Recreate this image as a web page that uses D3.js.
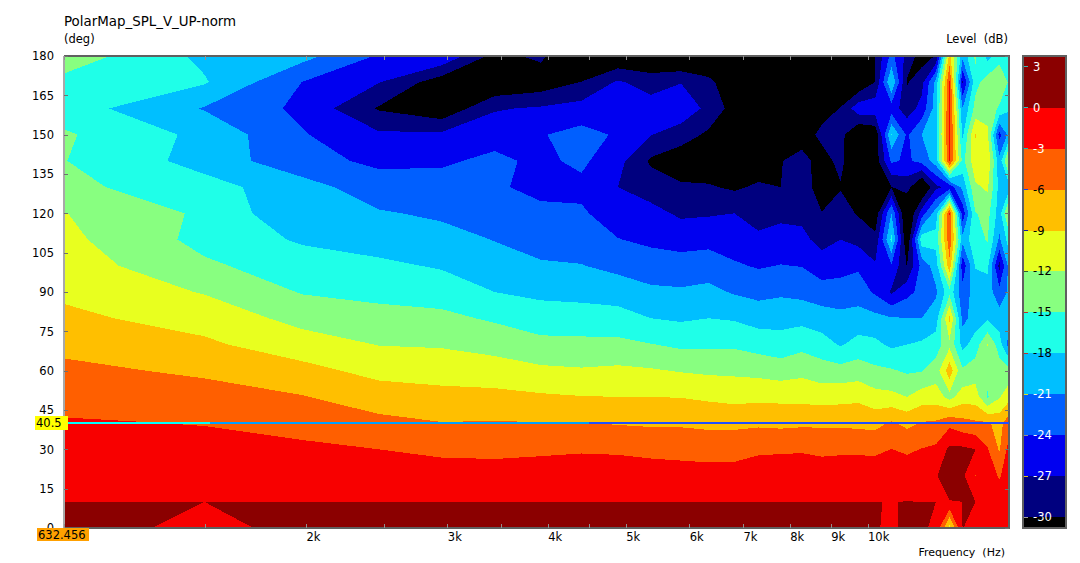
<!DOCTYPE html>
<html><head><meta charset="utf-8">
<script src="https://cdnjs.cloudflare.com/ajax/libs/d3/7.8.5/d3.min.js"></script>
<style>
html,body{margin:0;padding:0;background:#fff}
svg{display:block}
text{font-family:"DejaVu Sans",sans-serif;font-size:11.5px;fill:#000}
text.title{font-size:13.4px}
text.xname{font-size:11px}
</style></head><body>
<svg id="c" width="1080" height="563"></svg>
<script>
const title = "PolarMap_SPL_V_UP-norm";
const freqs = [1000,1495,1980,2465,2950,3435,3920,4405,4890,5375,5860,6345,6830,7315,7800,8285,8770,9255,9740,10225,10710,11195,11680,12165,12650,13135,13620,14105,14590,15000];
const angles = [0,10,20,30,40,50,60,70,80,90,100,110,120,130,140,150,160,170,180];
const row180 = [-13.2,-18.7,-20,-24.3,-24.4,-31,-29.33,-33.9,-33,-33,-34,-34,-34,-34,-34,-34,-34,-33,-33,-29.9,-23,-28,-31.5,-29.8,-8,-20,-14.5,-19,-16.5,-15.5];
const row170 = [-15.9,-17.7,-24.05,-26.9,-31.7,-33,-32,-29.9,-26.6,-28.4,-27.1,-29,-33,-33,-34,-33,-33,-32,-33,-29.9,-17.9,-30.3,-28,-20,-2.7,-27.5,-16,-13.5,-11.9,-15.5];
const row160 = [-16.5,-21.2,-24.7,-30.3,-32.5,-27.3,-26.6,-25.8,-25.2,-25.5,-25,-27.8,-31.35,-33,-33,-32,-31,-29.9,-25.1,-25,-25.5,-28.5,-26,-19.5,-2.2,-21,-14,-13,-15.5,-17.7];
const row150 = [-14.6,-18.8,-23.75,-26.5,-26.4,-25,-24.2,-23,-24.33,-26.9,-28.5,-30.6,-33,-33,-32,-31.2,-29.4,-29,-33.4,-32.5,-17.9,-24.5,-21,-19,-2,-18.5,-8.8,-11.5,-25,-20];
const row140 = [-14.9,-19.1,-23.1,-24.55,-24.4,-23.4,-24.6,-23.4,-26,-30.5,-32,-32,-33,-32,-30.1,-29.1,-31,-29.3,-32.5,-31.7,-23.5,-24.5,-23,-19.5,-2.6,-16,-10,-9.5,-20,-10.5];
const row130 = [-14.2,-16.9,-19.7,-22.8,-22.9,-23.6,-24.8,-24.7,-27,-28.3,-29.5,-29.7,-30.5,-29.5,-30,-28.5,-31.5,-30.2,-32,-33,-30.1,-28.7,-34,-27.7,-26,-20,-12.5,-11.5,-19,-19];
const row120 = [-11.9,-15.5,-20.6,-20.7,-21.5,-22.1,-23.3,-23.6,-25.5,-26.1,-27.5,-27.3,-27,-28.2,-27.8,-27.7,-29.9,-28.7,-30.3,-31.9,-21,-34,-25.5,-19.5,-2.9,-26,-15.2,-14,-19.5,-11];
const row110 = [-11.2,-15.9,-18.4,-19.3,-19.9,-21.1,-22,-22.3,-23.9,-24.6,-25.1,-24.9,-25.6,-26.4,-25.7,-26.3,-27.9,-27,-27.9,-29.2,-17.3,-33,-16.2,-17,-3.9,-20,-16,-14.8,-21.5,-16.5];
const row100 = [-10.4,-14.5,-16.5,-17.4,-18.3,-19.7,-20.7,-20.9,-21.8,-22.6,-22.8,-22.5,-23.6,-24.3,-23.9,-24.1,-25.7,-25.3,-24.5,-26.6,-24.3,-30.1,-23,-19.5,-7,-26,-17.8,-17.3,-28,-20];
const row90 = [-9.5,-12.2,-15.2,-15.8,-16.3,-18,-18.7,-18.9,-19.4,-20.4,-20.6,-20.2,-21.3,-21.9,-21.5,-21.9,-22.6,-22.4,-22.3,-24.5,-27.4,-25,-23,-21.5,-16,-23,-19.5,-19.5,-23,-20.5];
const row80 = [-8.4,-10.1,-13,-14,-14.3,-15.4,-16.5,-16.7,-16.8,-18,-18.4,-18,-18.3,-19.2,-19,-18.9,-19.6,-20.3,-19.9,-20.1,-20.8,-20.9,-21,-19.5,-8.3,-22,-19.5,-18.5,-19.5,-19];
const row70 = [-6.8,-8.5,-10.6,-12.1,-12.3,-13.1,-14.2,-14.25,-14.3,-14.9,-15.6,-15.5,-15.5,-16.2,-16.8,-15.9,-16.7,-18.3,-16.9,-17.3,-18.6,-18,-17.5,-16.5,-12.8,-19,-16.6,-11.9,-16.5,-22.5];
const row60 = [-5.3,-6.5,-8.1,-9.9,-10.2,-10.6,-11.4,-11.7,-11.4,-11.7,-12.2,-12.5,-12.6,-12.9,-13.4,-12.8,-13.7,-13.9,-13.5,-14.4,-14.7,-15.4,-15.2,-13.5,-7.2,-14.5,-13.5,-14,-13.5,-14];
const row50 = [-3.9,-4.8,-5.85,-7.5,-8.1,-8.2,-8.6,-8.9,-9,-9,-9.1,-9.5,-9.9,-9.7,-9.8,-9.9,-10.2,-10,-9.7,-10.9,-11.2,-12,-10.5,-10.5,-13,-10.5,-10.5,-15.3,-12.3,-10];
const row40 = [-2.75,-3.1,-4,-5.2,-5.9,-5.8,-5.9,-5.9,-6.2,-6.4,-6.4,-6.7,-6.7,-6.5,-6.7,-6.5,-6.5,-6.5,-6.7,-6.9,-5.6,-6.7,-5.8,-5.5,-3.8,-5,-5.5,-5.6,-7,-4.3];
const row30 = [-1.9,-2.2,-2.45,-3,-3.6,-3.7,-3.5,-3.3,-3.4,-3.7,-3.9,-4,-4,-3.5,-3.4,-3.3,-3.7,-3.6,-3.6,-3.6,-2.95,-3.5,-2.9,-2.4,0.6,0.6,0.05,-2.8,-6.3,-1.9];
const row20 = [-1,-1.1,-1.2,-1.5,-1.7,-1.8,-1.6,-1.4,-1.5,-1.7,-1.8,-2,-1.9,-1.3,-1.2,-1.2,-1.2,-0.95,-0.95,-1.2,-0.3,-1.1,-0.7,-0.2,1.5,0.55,-3.1,-0.8,-3.4,-1];
const row10 = [0,0,0,0,0,0,0,0,0,0,0,0,0,0,0,0,0,0,0,0.01,-0.013,0.0195,0,0,-0.1,0.01,0,-0.8,-0.9,-0.9];
const row0 = [0.5,-0.3,0.3,0.3,0.3,0.3,0.3,0.3,0.3,0.3,0.3,0.3,0.3,0.3,0.3,0.3,0.3,0.3,0.3,0.3,-0.67,1,0.5,-0.66,-10,0.05,-0.8,-1,-0.8,-0.5];
const rows = [row0,row10,row20,row30,row40,row50,row60,row70,row80,row90,row100,row110,row120,row130,row140,row150,row160,row170,row180];

const thresholds = [-30,-27,-24,-21,-18,-15,-12,-9,-6,-3,0];
const bandColors = ["#00007f","#0000f0","#005fff","#00bfff","#1fffe8","#88ff80","#e8ff1f","#ffbf00","#ff5f00","#f80000","#8b0000"];
const belowColor = "#000000";
const angleTicks = [0,15,30,45,60,75,90,105,120,135,150,165,180];
const freqTicks = [1000,1500,2000,2500,3000,3500,4000,4500,5000,6000,7000,8000,9000,10000];
const freqLabels = new Map([[1000,"1k"],[2000,"2k"],[3000,"3k"],[4000,"4k"],[5000,"5k"],[6000,"6k"],[7000,"7k"],[8000,"8k"],[9000,"9k"],[10000,"10k"]]);
const levelTicks = [3,0,-3,-6,-9,-12,-15,-18,-21,-24,-27,-30];
const levelInk = ["#fff","#fff","#fff","#000","#000","#000","#000","#000","#fff","#fff","#fff","#fff"];
const levelMarks = ["#40b0b0","#20c0c0","#20b0b0","#2040e0","#1020a0","#306030","#c03030","#c03030","#e0e020","#909090","#e0c020","#a0a0a0"];
const cursorAngle = 40.5, cursorFreq = 632.456;
const cursorColors = ["#00ffff","#00a0ff","#1f50ff"];
const cursorStops = [1000,1520,4500,15000];

const M = {l:64,r:1009,t:56,b:528};
const X = d3.scaleLog().domain([1000,15000]).range([M.l,M.r]);
const Y = d3.scaleLinear().domain([0,180]).range([M.b,M.t]);
const L = d3.scaleLinear().domain([3.79,-30.8]).range([M.t,M.b]);
const svg = d3.select("#c");

const nx = freqs.length, ny = angles.length;
const gx = d3.scaleLinear().domain(d3.range(nx)).range(freqs.map(X)).clamp(true);
const gy = d3.scaleLinear().domain(d3.range(ny)).range(angles.map(Y)).clamp(true);
const proj = d3.geoTransform({point(cx,cy){ this.stream.point(gx(cx-0.5), gy(cy-0.5)); }});
const path = d3.geoPath(proj);
const flat = rows.flat();
const polys = d3.contours().size([nx,ny]).smooth(true).thresholds(thresholds)(flat);

svg.append("rect").attr("x",M.l).attr("y",M.t).attr("width",M.r-M.l).attr("height",M.b-M.t).attr("fill",belowColor);
svg.append("g").attr("shape-rendering","crispEdges").selectAll("path").data(polys).join("path")
  .attr("d",path).attr("fill",(d,i)=>bandColors[i]);

// frame
const frame = svg.append("g").attr("fill","none").attr("shape-rendering","crispEdges");
frame.append("path").attr("d",`M${M.l},${M.t}H${M.r}V${M.b}H${M.l}`).attr("stroke","#606060").attr("stroke-width",2);
frame.append("path").attr("d",`M${M.l},${M.t}V${M.b}`).attr("stroke","#a8a8a8").attr("stroke-width",2);

// axes
const yAxis = d3.axisLeft(Y).tickValues(angleTicks).tickSize(-4).tickPadding(10).tickFormat(d3.format("d"));
const gYA = svg.append("g").attr("transform",`translate(${M.l},0)`).call(yAxis);
gYA.select(".domain").remove();
gYA.selectAll("line").attr("stroke","#707070").attr("shape-rendering","crispEdges");
const yAxisR = d3.axisRight(Y).tickValues(angleTicks).tickSize(-4).tickFormat("");
const gYR = svg.append("g").attr("transform",`translate(${M.r},0)`).call(yAxisR);
gYR.select(".domain").remove();
gYR.selectAll("line").attr("stroke","#707070").attr("shape-rendering","crispEdges");
const xAxis = d3.axisBottom(X).tickValues(freqTicks).tickSize(-4).tickPadding(5).tickFormat(d=>freqLabels.get(d)||"");
const gXA = svg.append("g").attr("transform",`translate(0,${M.b})`).call(xAxis);
gXA.select(".domain").remove();
gXA.selectAll("line").attr("stroke","#909090").attr("shape-rendering","crispEdges");
gXA.selectAll("text").attr("text-anchor","start");
const xAxisT = d3.axisTop(X).tickValues(freqTicks).tickSize(-4).tickFormat("");
const gXT = svg.append("g").attr("transform",`translate(0,${M.t})`).call(xAxisT);
gXT.select(".domain").remove();
gXT.selectAll("line").attr("stroke","#909090").attr("shape-rendering","crispEdges");

// captions
svg.append("text").attr("class","title").attr("x",64).attr("y",26).text(title);
svg.append("text").attr("x",64).attr("y",43).text("(deg)");
svg.append("text").attr("x",1008).attr("y",43).attr("text-anchor","end").text("Level  (dB)").style("white-space","pre");
svg.append("text").attr("class","xname").attr("x",1005).attr("y",556).attr("text-anchor","end").text("Frequency  (Hz)").style("white-space","pre");

// cursor
const yc = Math.round(Y(cursorAngle));
svg.append("g").attr("shape-rendering","crispEdges").selectAll("rect").data(d3.pairs(cursorStops)).join("rect")
  .attr("x",d=>X(d[0])).attr("width",d=>X(d[1])-X(d[0])).attr("y",yc).attr("height",2)
  .attr("fill",(d,i)=>cursorColors[i]);
svg.append("rect").attr("x",35).attr("y",yc-6).attr("width",33).attr("height",14).attr("fill","#ffff00");
svg.append("text").attr("x",36).attr("y",yc+5).text(cursorAngle);
svg.append("rect").attr("x",37).attr("y",M.b).attr("width",52).attr("height",13).attr("fill","#ffa000");
svg.append("text").attr("x",38).attr("y",M.b+11).text(cursorFreq);

// legend
const legendX = 1023, legendW = 43;
const edges = [L.domain()[0], ...thresholds.slice().reverse(), L.domain()[1]];
const legendColors = [...bandColors.slice().reverse().map(c=>c==="#f80000"?"#ff0000":c), belowColor];
const lg = svg.append("g").attr("shape-rendering","crispEdges");
lg.selectAll("rect").data(d3.pairs(edges)).join("rect")
  .attr("x",legendX).attr("width",legendW)
  .attr("y",d=>L(d[0])).attr("height",d=>L(d[1])-L(d[0]))
  .attr("fill",(d,i)=>legendColors[i]);
lg.append("rect").attr("x",legendX).attr("y",M.t).attr("width",legendW).attr("height",M.b-M.t)
  .attr("fill","none").attr("stroke","#606060").attr("stroke-width",2);
lg.selectAll("line").data(levelTicks).join("line")
  .attr("x1",legendX+1).attr("x2",legendX+5).attr("y1",d=>L(d)).attr("y2",d=>L(d))
  .attr("stroke",(d,i)=>levelMarks[i]);
svg.append("g").selectAll("text").data(levelTicks).join("text")
  .attr("x",legendX+10).attr("y",d=>L(d)+4).text(d=>d).style("fill",(d,i)=>levelInk[i]);
</script>
</body></html>
